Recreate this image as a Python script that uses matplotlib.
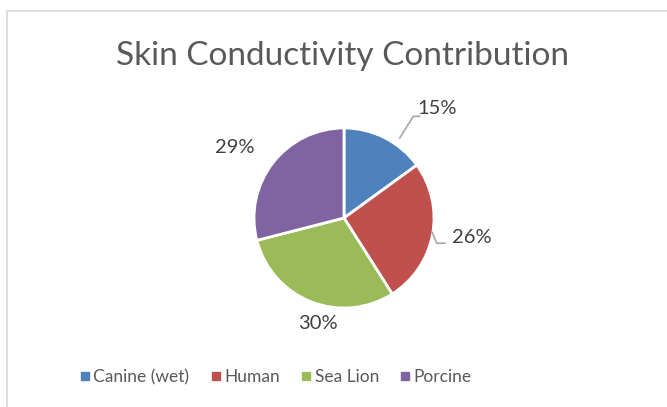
import numpy as np
import matplotlib
matplotlib.use("Agg")
from matplotlib import pyplot as plt
from matplotlib.lines import Line2D
from matplotlib.patches import Rectangle

# data
categories = ["Canine (wet)", "Human", "Sea Lion", "Porcine"]
shares = [15, 26, 30, 29]
colors = ["#4F81BD", "#C0504D", "#9BBB59", "#8064A2"]

# label placement (radius units): per slice (x, y) offsets and optional leader elbows
label_pos = [(1.03, 1.22), (1.42, -0.22), (-0.29, -1.17), (-1.21, 0.78)]
leaders = {
    0: [(0.62, 0.89), (0.77, 1.13), (0.84, 1.13)],
    1: [(0.98, -0.16), (1.03, -0.28), (1.12, -0.28)],
}

plt.rcParams["font.family"] = ["Lato", "DejaVu Sans"]

fig = plt.figure(figsize=(6.67, 4.07), dpi=100)
fig.patch.set_facecolor("white")

# chart border (only top/left visible in the crop)
fig.patches.append(Rectangle((7 / 667, -0.1), 1.2, 1.1 - 11 / 407, transform=fig.transFigure,
                             fill=False, edgecolor="#D9D9D9", lw=1.2, zorder=0))

ax = fig.add_axes([164 / 667, 9 / 407, 360 / 667, 360 / 407])
wedges, _ = ax.pie(shares, colors=colors, startangle=90, counterclock=False, radius=1,
                   wedgeprops=dict(edgecolor="white", linewidth=2))
ax.set_xlim(-2, 2)
ax.set_ylim(-2, 2)
ax.set_aspect("equal")
ax.axis("off")

total = sum(shares)
for i, (v, (lx, ly)) in enumerate(zip(shares, label_pos)):
    ax.text(lx, ly, f"{round(100 * v / total)}%", ha="center", va="center",
            fontsize=14.5, color="#404040")
    if i in leaders:
        pts = np.array(leaders[i])
        ax.plot(pts[:, 0], pts[:, 1], color="#A6A6A6", lw=1.2, clip_on=False)

fig.text(0.514, 1 - 56 / 407, "Skin Conductivity Contribution", ha="center", va="center",
         fontsize=24, color="#595959")

handles = [Line2D([], [], marker="s", ls="", color=c, markersize=6) for c in colors]
fig.legend(handles, categories, loc="center", bbox_to_anchor=(274 / 667, 1 - 377 / 407), ncol=4,
           frameon=False, fontsize=12.5, handletextpad=0.0, columnspacing=1.0,
           labelcolor="#595959", handlelength=1.0)

fig.savefig("out.png", dpi=100)
